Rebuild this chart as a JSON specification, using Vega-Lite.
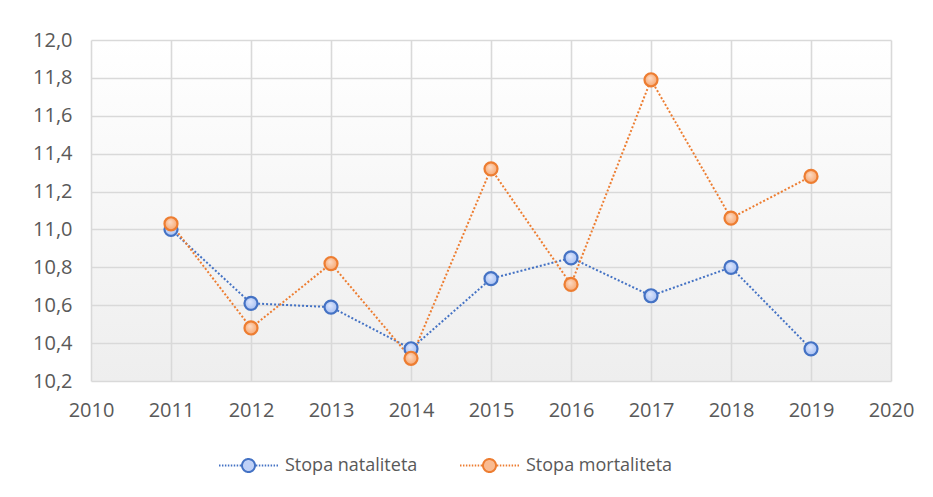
{
  "$schema": "https://vega.github.io/schema/vega-lite/v6.json",
  "width": 800,
  "height": 341,
  "autosize": "none",
  "padding": {"left": 91, "top": 40, "right": 42, "bottom": 116},
  "background": "white",
  "config": {
    "view": {
      "stroke": null,
      "fill": {"gradient": "linear", "x1": 0, "y1": 0, "x2": 0, "y2": 1, "stops": [{"offset": 0, "color": "#ffffff"}, {"offset": 1, "color": "#eeeeee"}]}
    },
    "font": "Open Sans",
    "axis": {
      "domain": false,
      "ticks": false,
      "tickSize": 0,
      "grid": true,
      "gridColor": "#d9d9d9",
      "gridWidth": 1.6,
      "labelFont": "Open Sans",
      "labelFontSize": 20,
      "labelColor": "#595959",
      "labelFlush": false,
      "labelOverlap": false,
      "labelBound": false,
      "title": null
    }
  },
  "data": {
    "values": [
      {"year": 2011, "series": "Stopa nataliteta", "value": 11.0},
      {"year": 2012, "series": "Stopa nataliteta", "value": 10.61},
      {"year": 2013, "series": "Stopa nataliteta", "value": 10.59},
      {"year": 2014, "series": "Stopa nataliteta", "value": 10.37},
      {"year": 2015, "series": "Stopa nataliteta", "value": 10.74},
      {"year": 2016, "series": "Stopa nataliteta", "value": 10.85},
      {"year": 2017, "series": "Stopa nataliteta", "value": 10.65},
      {"year": 2018, "series": "Stopa nataliteta", "value": 10.8},
      {"year": 2019, "series": "Stopa nataliteta", "value": 10.37},
      {"year": 2011, "series": "Stopa mortaliteta", "value": 11.03},
      {"year": 2012, "series": "Stopa mortaliteta", "value": 10.48},
      {"year": 2013, "series": "Stopa mortaliteta", "value": 10.82},
      {"year": 2014, "series": "Stopa mortaliteta", "value": 10.32},
      {"year": 2015, "series": "Stopa mortaliteta", "value": 11.32},
      {"year": 2016, "series": "Stopa mortaliteta", "value": 10.71},
      {"year": 2017, "series": "Stopa mortaliteta", "value": 11.79},
      {"year": 2018, "series": "Stopa mortaliteta", "value": 11.06},
      {"year": 2019, "series": "Stopa mortaliteta", "value": 11.28}
    ]
  },
  "encoding": {
    "x": {
      "field": "year", "type": "quantitative",
      "scale": {"domain": [2010, 2020], "nice": false, "zero": false},
      "axis": {"values": [2010, 2011, 2012, 2013, 2014, 2015, 2016, 2017, 2018, 2019, 2020], "format": "d", "labelPadding": 19}
    },
    "y": {
      "field": "value", "type": "quantitative",
      "scale": {"domain": [10.2, 12.0], "nice": false, "zero": false},
      "axis": {"values": [10.2, 10.4, 10.6, 10.8, 11.0, 11.2, 11.4, 11.6, 11.8, 12.0], "labelExpr": "replace(format(datum.value, '.1f'), '.', ',')", "labelPadding": 19}
    }
  },
  "layer": [
    {
      "mark": {"type": "line", "strokeWidth": 2, "strokeDash": [2, 2]},
      "encoding": {
        "stroke": {
          "field": "series", "type": "nominal",
          "scale": {"domain": ["Stopa nataliteta", "Stopa mortaliteta"], "range": ["#4472C4", "#ED7D31"]},
          "legend": {
            "orient": "none",
            "legendX": 127,
            "legendY": 395,
            "direction": "horizontal",
            "title": null,
            "padding": 0,
            "symbolType": "M-1,0h0.05M-0.9,0h0.05M-0.8,0h0.05M-0.7,0h0.05M-0.6,0h0.05M-0.5,0h0.05M-0.4,0h0.05M-0.3,0h0.05M0.25,0h0.05M0.35,0h0.05M0.45,0h0.05M0.55,0h0.05M0.65,0h0.05M0.75,0h0.05M0.85,0h0.05M0.95,0h0.05M-0.22,0a0.22,0.22 0 1,0 0.44,0a0.22,0.22 0 1,0 -0.44,0Z",
            "symbolSize": 3481,
            "symbolStrokeWidth": 2,
            "labelOffset": 6,
            "columnPadding": 38,
            "labelFont": "Open Sans",
            "labelFontSize": 18,
            "labelColor": "#595959",
            "encode": {
              "symbols": {
                "update": {
                  "fill": {"signal": "datum.value === 'Stopa nataliteta' ? '#bfd1f7' : '#f9bb92'"},
                  "strokeDash": {"value": [1, 0]},
                  "opacity": {"value": 1}
                }
              }
            }
          }
        }
      }
    },
    {
      "transform": [{"filter": "datum.series === 'Stopa nataliteta'"}],
      "mark": {
        "type": "point", "shape": "circle", "size": 170, "filled": false, "opacity": 1,
        "stroke": "#4472C4", "strokeWidth": 2.2,
        "fill": {"gradient": "radial", "x1": 0.4, "y1": 0.35, "r1": 0, "x2": 0.5, "y2": 0.5, "r2": 0.55, "stops": [{"offset": 0, "color": "#dfe8fd"}, {"offset": 1, "color": "#a4bdf1"}]}
      }
    },
    {
      "transform": [{"filter": "datum.series === 'Stopa mortaliteta'"}],
      "mark": {
        "type": "point", "shape": "circle", "size": 170, "filled": false, "opacity": 1,
        "stroke": "#ED7D31", "strokeWidth": 2.2,
        "fill": {"gradient": "radial", "x1": 0.4, "y1": 0.35, "r1": 0, "x2": 0.5, "y2": 0.5, "r2": 0.55, "stops": [{"offset": 0, "color": "#fddcc6"}, {"offset": 1, "color": "#f6a56e"}]}
      }
    }
  ]
}
